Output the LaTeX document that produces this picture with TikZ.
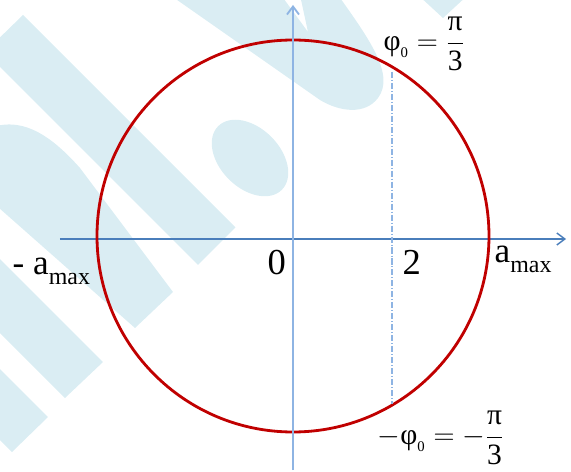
\documentclass[tikz,border=0pt]{standalone}
\usepackage{fontspec}
\setmainfont{Liberation Serif}
\usepackage{amsmath}
\usetikzlibrary{arrows.meta}

\definecolor{ejeazul}{HTML}{4A7EBB}
\definecolor{ejeclaro}{HTML}{8EB4E3}
\definecolor{rojo}{HTML}{C00000}
\definecolor{marca}{HTML}{DAEDF3}
\newcommand{\amax}{a\raisebox{-6.5pt}{\fontsize{17}{17}\selectfont max}}

\begin{document}
\begin{tikzpicture}[x=0.025cm,y=0.025cm,line width=1pt,>={Straight Barb[length=2mm,width=3mm]},
  etiqueta/.style={inner sep=0pt,anchor=base west,font=\fontsize{25}{30}\selectfont},
  formula/.style={inner sep=0pt,anchor=base west,font=\fontsize{21}{25}\selectfont}]
  \useasboundingbox (-293,-233) rectangle (278,239);
  % marca de agua (en pixeles)
  \begin{scope}[shift={(-293,239)},yscale=-1]
    \clip (0,0) rectangle (571,472);
    \fill[marca] (23,15) -- (235.5,227.5) -- (198,265) -- (-15,52) -- cycle;
    \fill[marca] (-10,128) .. controls (25,115) and (55,140) .. (80,168) -- (173,292) -- (135,328) -- (-10,200) -- cycle;
    \fill[marca] (103,362) -- (65,398) -- (-10,323) -- (-10,249) -- cycle;
    \fill[marca] (48,417) -- (12,452) -- (-10,430) -- (-10,359) -- cycle;
    \fill[marca] (170,-5) -- (281,-5) -- (308,32) -- (300,-5) -- (338,-5) .. controls (370,40) and (395,75) .. (378,98)
      .. controls (365,115) and (340,112) .. (320,100) -- cycle;
    \fill[marca] (418,-5) -- (443,18) -- (468,-5) -- cycle;
    \fill[marca,rotate around={45:(250,158)}] (250,158) ellipse (45 and 30);
  \end{scope}
  % ejes y circunferencia
  \draw[->,ejeazul] (-233,0) -- (273,0);
  \draw[rojo,line width=2pt] (0,3) circle (196);
  \draw[->,ejeclaro,line width=1.3pt] (0,-231) -- (0,234);
  \coordinate (arriba) at (99,167);
  \coordinate (abajo) at (99,-165);
  \draw[ejeclaro,line width=0.8pt,dash pattern=on 4.3pt off 1.4pt on 0.7pt off 1.4pt] (arriba) -- (abajo);
  % etiquetas
  \node[etiqueta,font=\fontsize{26}{30}\selectfont] (cero) at (-26,-36) {0};
  \node[etiqueta,font=\fontsize{26}{30}\selectfont] (dos) at (109,-36) {2};
  \node[etiqueta] (amax) at (201,-24) {\amax};
  \node[etiqueta] (menosamax) at (-281,-36) {- \amax};
  \node[formula] (fisup) at (90,188.5) {$\text{φ}_{\scriptscriptstyle\text{0}}=\dfrac{\text{π}}{\text{3}}$};
  \node[formula] (fiinf) at (84,-205.4) {$-\text{φ}_{\scriptscriptstyle\text{0}}=-\dfrac{\text{π}}{\text{3}}$};
\end{tikzpicture}
\end{document}
